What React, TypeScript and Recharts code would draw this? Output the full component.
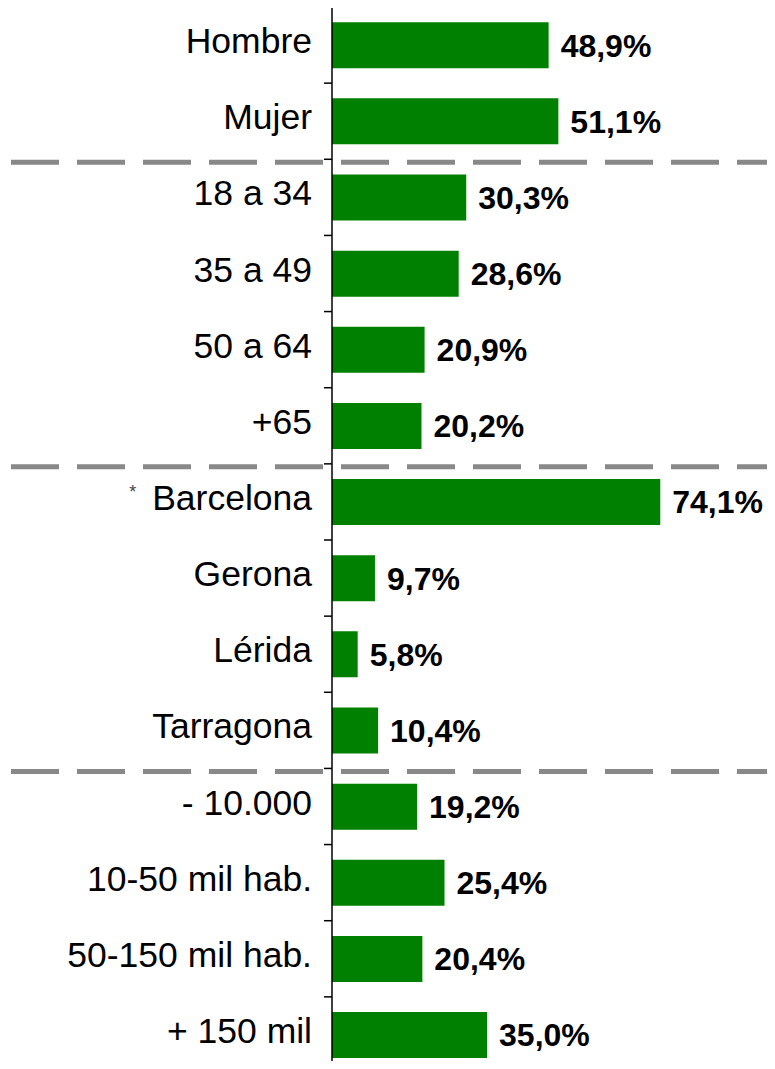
import { BarChart, Bar, XAxis, YAxis, LabelList } from "recharts";

const categories = [
  "Hombre", "Mujer",
  "18 a 34", "35 a 49", "50 a 64", "+65",
  "Barcelona", "Gerona", "Lérida", "Tarragona",
  "- 10.000", "10-50 mil hab.", "50-150 mil hab.", "+ 150 mil",
];
const values = [48.9, 51.1, 30.3, 28.6, 20.9, 20.2, 74.1, 9.7, 5.8, 10.4, 19.2, 25.4, 20.4, 35.0];
const groupStarts = ["18 a 34", "Barcelona", "- 10.000"];
const starred = ["Barcelona"];

const data = categories.map((name, i) => ({ name, value: values[i] }));

const FONT = '"Liberation Sans", Arial, sans-serif';

const fmt = (v: any) => Number(v).toFixed(1).replace(".", ",") + "%";

const CategoryTick = (props: any) => {
  const { x, y, payload } = props;
  const half = payload.offset || 38;
  const top = y - half;
  const name = payload.value;
  const star = starred.includes(name);
  return (
    <g>
      <line x1={x - 8} x2={x} y1={top} y2={top} stroke="#000" strokeWidth={1.5} />
      {groupStarts.includes(name) && (
        <line x1={11} x2={775} y1={top + 3} y2={top + 3} stroke="#888" strokeWidth={5} strokeDasharray="48 18" />
      )}
      <text x={x - 20} y={y + 8} textAnchor="end" fontFamily={FONT} fontSize={35.5} fill="#000">
        {star && (
          <tspan fontSize={18} dy={-12} fill="#444">*</tspan>
        )}
        {star ? <tspan dy={12} dx={16}>{name}</tspan> : name}
      </text>
    </g>
  );
};

export default function App() {
  return (
    <div style={{ margin: -8, width: 775, height: 1069, overflow: "hidden", background: "#fff" }}>
      <BarChart
        layout="vertical"
        width={775}
        height={1075}
        data={data}
        margin={{ top: 7, right: 0, left: 0, bottom: 2 }}
        barCategoryGap="20%"
      >
        <XAxis type="number" domain={[0, 100]} hide />
        <YAxis
          type="category"
          dataKey="name"
          width={332}
          axisLine={{ stroke: "#000", strokeWidth: 1.5 }}
          tickLine={false}
          tickSize={0}
          tickMargin={0}
          interval={0}
          tick={<CategoryTick />}
        />
        <Bar dataKey="value" fill="#008000" isAnimationActive={false}>
          <LabelList
            dataKey="value"
            position="right"
            offset={12}
            formatter={fmt}
            fill="#000"
            fontFamily={FONT}
            fontWeight="bold"
            fontSize={32}
          />
        </Bar>
      </BarChart>
    </div>
  );
}
